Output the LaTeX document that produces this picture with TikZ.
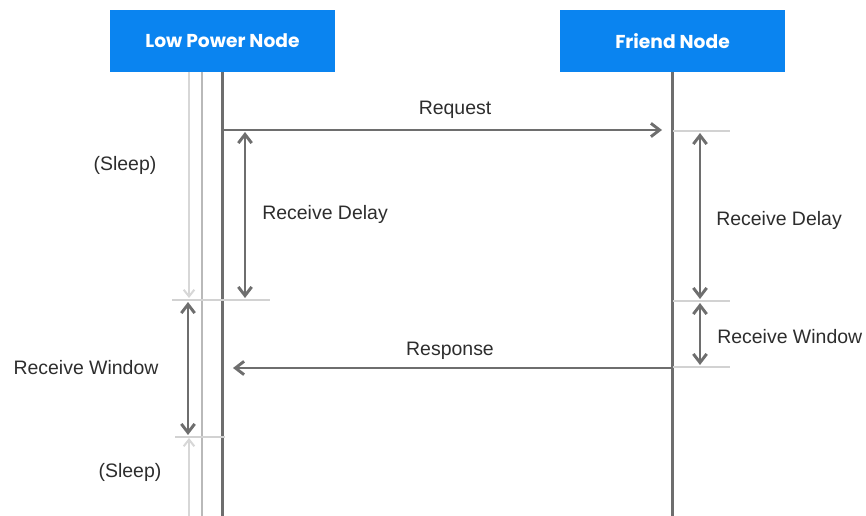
\documentclass[tikz,border=0pt]{standalone}
\usepackage{fontspec}
\setmainfont{Liberation Sans}
\newfontfamily\titlefont{Poppins}
\usetikzlibrary{arrows.meta}

\definecolor{boxblue}{RGB}{10,132,240}
\definecolor{linegray}{RGB}{110,110,110}
\definecolor{shadowgray}{RGB}{185,185,185}
\definecolor{sleepgray}{RGB}{215,215,215}
\definecolor{tickgray}{RGB}{210,210,210}
\definecolor{textgray}{RGB}{45,45,45}

\begin{document}
\begin{tikzpicture}[x=0.75pt,y=-0.75pt,
  actor/.style={fill=boxblue, text=white, minimum width=168.75pt, minimum height=46.5pt,
    inner sep=0pt, font=\titlefont\bfseries\fontsize{14}{16}\selectfont},
  lifeline/.style={draw=linegray, line width=2.2pt},
  shadowline/.style={draw=shadowgray, line width=1.5pt},
  msg/.style={draw=linegray, line width=2.2pt, -{Straight Barb[length=6.5pt, width=10pt]}},
  span/.style={draw=linegray, line width=2.2pt, {Straight Barb[length=6.5pt, width=10pt]}-{Straight Barb[length=6.5pt, width=10pt]}},
  sleeparrow/.style={draw=sleepgray, line width=1.5pt, -{Straight Barb[length=5pt, width=8pt]}},
  tick/.style={draw=tickgray, line width=0.8pt},
  lbl/.style={text=textgray, font=\fontsize{14.6}{17}\selectfont, inner sep=0pt}
]
\useasboundingbox (0,0) rectangle (866,516);

% participants
\node[actor] (lpn) at (222.5,41) {Low Power Node};
\node[actor] (fn)  at (672.5,41) {Friend Node};

% bottom ends of the lines
\coordinate (lpnEnd) at (222.5,516);
\coordinate (fnEnd)  at (672.5,516);
\coordinate (shTop) at (202,72);
\coordinate (shEnd) at (202,516);
\coordinate (slATop) at (189,72);
\coordinate (slAEnd) at (189,298);
\coordinate (slBBot) at (189,516);
\coordinate (slBEnd) at (189,438);

% sleep arrows and shadow line
\draw[sleeparrow] (slATop) -- (slAEnd);
\draw[sleeparrow] (slBBot) -- (slBEnd);
\draw[shadowline] (shTop) -- (shEnd);

% lifelines
\draw[lifeline] (lpn.south) -- (lpnEnd);
\draw[lifeline] (fn.south) -- (fnEnd);

% marker ticks
\coordinate (rt1a) at (673,131); \coordinate (rt1b) at (730,131);
\coordinate (rt2a) at (673,301); \coordinate (rt2b) at (730,301);
\coordinate (rt3a) at (673,367); \coordinate (rt3b) at (730,367);
\coordinate (lt1a) at (172,300); \coordinate (lt1b) at (270,300);
\coordinate (lt2a) at (175,437); \coordinate (lt2b) at (225,437);
\draw[tick] (rt1a) -- (rt1b);
\draw[tick] (rt2a) -- (rt2b);
\draw[tick] (rt3a) -- (rt3b);
\draw[tick] (lt1a) -- (lt1b);
\draw[tick] (lt2a) -- (lt2b);

% messages
\coordinate (reqS) at (222.5,130);
\coordinate (reqE) at (662,130);
\coordinate (resS) at (672.5,368);
\coordinate (resE) at (233,368);
\draw[msg] (reqS) -- (reqE);
\draw[msg] (resS) -- (resE);
\node[lbl] (reqL) at (455,110) {Request};
\node[lbl] (resL) at (450,351) {Response};

% intervals
\coordinate (ldT) at (245,132); \coordinate (ldB) at (245,298);
\coordinate (lwT) at (188,302); \coordinate (lwB) at (188,435);
\coordinate (rdT) at (700,133); \coordinate (rdB) at (700,299);
\coordinate (rwT) at (700,303); \coordinate (rwB) at (700,365);
\draw[span] (ldT) -- (ldB);
\draw[span] (lwT) -- (lwB);
\draw[span] (rdT) -- (rdB);
\draw[span] (rwT) -- (rwB);

\node[lbl, anchor=west] (ldL) at (262,214) {Receive Delay};
\node[lbl, anchor=west] (rdL) at (716,220) {Receive Delay};
\node[lbl, anchor=west] (rwL) at (717,337) {Receive Window};
\node[lbl] (lwL) at (86,368) {Receive Window};
\node[lbl] (s1L) at (125,165) {(Sleep)};
\node[lbl] (s2L) at (130,472) {(Sleep)};
\end{tikzpicture}
\end{document}
